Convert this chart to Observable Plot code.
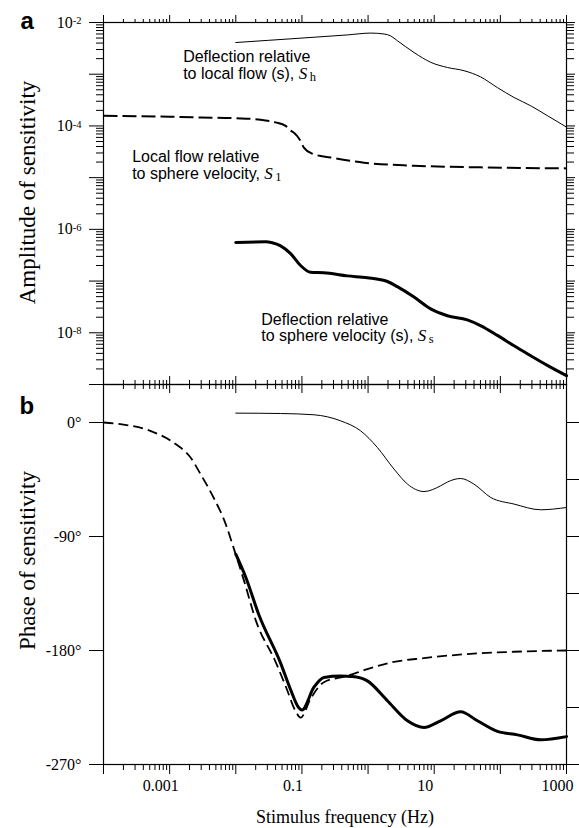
<!DOCTYPE html>
<html>
<head>
<meta charset="utf-8">
<script src="https://cdn.jsdelivr.net/npm/d3@7"></script>
<script src="https://cdn.jsdelivr.net/npm/@observablehq/plot@0.6"></script>
<style>
html, body { margin: 0; padding: 0; background: #fff; }
#chart { position: relative; width: 579px; height: 828px; background: #fff; }
#chart svg { position: absolute; left: 0; }
</style>
</head>
<body>
<div id="chart"></div>
<script>
// ---------- tick values and labels ----------
const freqDecades = [1e-4, 1e-3, 1e-2, 1e-1, 1, 10, 100, 1000];
const freqLabelValues = [1e-3, 1e-1, 10, 1000];
const freqLabels = ["0.001", "0.1", "10", "1000"];
const ampDecades = [1e-9, 1e-8, 1e-7, 1e-6, 1e-5, 1e-4, 1e-3, 1e-2];
const ampLabelValues = [1e-2, 1e-4, 1e-6, 1e-8];
const ampLabels = ["10^-2", "10^-4", "10^-6", "10^-8"];
const phaseLabelValues = [0, -90, -180, -270];
const phaseLabels = ["0°", "-90°", "-180°", "-270°"];
const phaseRightTicks = [0, -45, -90, -135, -180, -225, -270];

// ---------- panel a: amplitude of sensitivity ----------
const ampFreqSh = [0.01, 0.1, 0.486, 1.1, 1.74, 2.2, 2.77, 4.95, 8.85, 15.8, 28.2, 50, 90.4, 161, 288, 513, 1000];
const ampSh = [4.1e-3, 5.0e-3, 5.75e-3, 6.24e-3, 6.0e-3, 5.5e-3, 4.45e-3, 2.63e-3, 1.70e-3, 1.35e-3, 1.17e-3, 8.9e-4, 5.5e-4, 3.55e-4, 2.45e-4, 1.58e-4, 9.5e-5];

const ampFreqS1 = [0.0001, 0.001, 0.00293, 0.01, 0.0237, 0.04, 0.0567, 0.0676, 0.0759, 0.0955, 0.107, 0.1435, 0.272, 0.867, 4.9, 50, 1000];
const ampS1 = [1.57e-4, 1.51e-4, 1.46e-4, 1.41e-4, 1.32e-4, 1.17e-4, 1.0e-4, 8.1e-5, 7.4e-5, 5.1e-5, 3.8e-5, 2.9e-5, 2.45e-5, 1.95e-5, 1.70e-5, 1.58e-5, 1.51e-5];

const ampFreqSs = [0.01, 0.0282, 0.0355, 0.0476, 0.0675, 0.0955, 0.1355, 0.215, 0.486, 0.975, 1.96, 2.77, 4.95, 8.85, 15.8, 31.6, 50, 90.4, 161, 288, 513, 1000];
const ampSs = [5.6e-7, 5.75e-7, 5.5e-7, 4.8e-7, 3.4e-7, 2.0e-7, 1.48e-7, 1.45e-7, 1.26e-7, 1.16e-7, 9.8e-8, 7.8e-8, 4.9e-8, 2.9e-8, 2.14e-8, 1.78e-8, 1.38e-8, 8.9e-9, 5.6e-9, 3.6e-9, 2.34e-9, 1.48e-9];

// ---------- panel b: phase of sensitivity (degrees) ----------
const phFreqSh = [0.01, 0.0476, 0.152, 0.385, 0.773, 1.38, 2.47, 3.94, 7.0, 12.5, 15.8, 25.1, 39.8, 71.6, 161, 407, 1000];
const phSh = [7.4, 7.1, 6.1, 1.3, -6.6, -19.7, -36.8, -48.6, -54.5, -50, -47, -44.2, -48.6, -59.2, -64.4, -68.9, -67.1];

const phFreqS1 = [0.0001, 0.00018, 0.00051, 0.00123, 0.00207, 0.00293, 0.00461, 0.00702, 0.00927, 0.0137, 0.02, 0.04, 0.0566, 0.0804, 0.0955, 0.1355, 0.215, 0.486, 0.975, 2.2, 7.0, 28.2, 161, 1000];
const phS1 = [0, -1.3, -6.6, -17, -27.6, -40.7, -59.2, -80, -99, -127, -156, -189, -208, -228, -233, -218, -205, -200, -194.7, -189.5, -186, -183, -181, -180];

const phFreqSs = [0.01, 0.0141, 0.0224, 0.0476, 0.0675, 0.0891, 0.1, 0.152, 0.215, 0.385, 0.578, 0.975, 1.96, 3.94, 7.0, 12.5, 25.1, 45, 90.4, 181, 407, 1000];
const phSs = [-104, -122, -152, -190, -211, -225, -227, -209, -201.3, -200.2, -200.5, -204, -219.7, -235.5, -240.8, -235.5, -228.4, -235.5, -243.9, -246.6, -250.5, -248];

// ---------- helpers ----------
const zip = (fs, vs) => fs.map((f, i) => ({f, v: vs[i]}));
const minorOf = (decs) => {
  const out = [];
  for (const d of decs.slice(0, -1)) for (let k = 2; k <= 9; k++) out.push(d * k);
  return out;
};
const freqMinor = minorOf(freqDecades);
const ampMinor = minorOf(ampDecades);
const blank = () => "";
const lookup = (vals, labels) => (d) => { const i = vals.indexOf(d); return i < 0 ? "" : labels[i]; };

const SERIF = "'Liberation Serif', 'Times New Roman', serif";
const SANS = "'Liberation Sans', Arial, sans-serif";
const baseStyle = {fontFamily: SERIF, fontSize: "16px", background: "transparent", overflow: "visible", color: "black"};
const W = 579, ML = 103, MR = 13;

const annoStyle = {textAnchor: "start", lineAnchor: "bottom", fontFamily: SANS, fontSize: 16, lineHeight: 1.04, fill: "black"};
const yTitleStyle = {frameAnchor: "left", textAnchor: "middle", lineAnchor: "middle", rotate: -90, fontFamily: SERIF, fontSize: 23};

// ---------- panel a ----------
const plotA = Plot.plot({
  width: W, height: 400,
  marginTop: 22, marginBottom: 16, marginLeft: ML, marginRight: MR,
  style: baseStyle,
  x: {type: "log", domain: [1e-4, 1e3], label: null},
  y: {type: "log", domain: [1e-9, 1e-2], label: null},
  marks: [
    Plot.axisX(freqDecades, {anchor: "top", tickSize: 8, tickFormat: blank, label: null}),
    Plot.axisX(freqMinor, {anchor: "top", tickSize: 4, tickFormat: blank, label: null}),
    Plot.axisX(freqDecades, {anchor: "bottom", tickSize: 9, tickFormat: blank, label: null}),
    Plot.axisX(freqMinor, {anchor: "bottom", tickSize: 5, tickFormat: blank, label: null}),
    Plot.axisY(ampDecades, {anchor: "left", tickSize: 14, tickPadding: 8, tickFormat: lookup(ampLabelValues, ampLabels), label: null}),
    Plot.axisY(ampMinor, {anchor: "left", tickSize: 7, tickFormat: blank, label: null}),
    Plot.axisY(ampDecades.slice(1), {anchor: "right", tickSize: 8, tickFormat: blank, label: null}),
    Plot.axisY(ampMinor, {anchor: "right", tickSize: 7, tickFormat: blank, label: null}),
    Plot.line(zip(ampFreqSh, ampSh), {x: "f", y: "v", curve: "monotone-x", strokeWidth: 1}),
    Plot.line(zip(ampFreqS1, ampS1), {x: "f", y: "v", curve: "monotone-x", strokeWidth: 2, strokeDasharray: "14,5", strokeLinecap: "butt"}),
    Plot.line(zip(ampFreqSs, ampSs), {x: "f", y: "v", curve: "monotone-x", strokeWidth: 3}),
    Plot.frame({strokeWidth: 1.2}),
    Plot.text([{f: 0.0016, v: 8.05e-4, t: "Deflection relative\nto local flow (s), {S|h}"}], {x: "f", y: "v", text: "t", ...annoStyle}),
    Plot.text([{f: 0.000271, v: 9.4e-6, t: "Local flow relative\nto sphere velocity, {S|1}"}], {x: "f", y: "v", text: "t", ...annoStyle}),
    Plot.text([{f: 0.0243, v: 6.85e-9, t: "Deflection relative\nto sphere velocity (s), {S|s}"}], {x: "f", y: "v", text: "t", ...annoStyle}),
    Plot.text(["a"], {frameAnchor: "top-left", dx: -83, dy: 6, textAnchor: "start", lineAnchor: "bottom", fontFamily: SANS, fontWeight: "bold", fontSize: 24}),
    Plot.text(["Amplitude of sensitivity"], {...yTitleStyle, dx: -76, dy: -11})
  ]
});

// ---------- panel b ----------
const plotB = Plot.plot({
  width: W, height: 460,
  marginTop: 16, marginBottom: 64, marginLeft: ML, marginRight: MR,
  style: baseStyle,
  x: {type: "log", domain: [1e-4, 1e3], label: null},
  y: {domain: [-270, 30], label: null},
  marks: [
    Plot.axisX(freqDecades, {anchor: "top", tickSize: 9, tickFormat: blank, label: null}),
    Plot.axisX(freqMinor, {anchor: "top", tickSize: 5, tickFormat: blank, label: null}),
    Plot.axisX(freqDecades, {anchor: "bottom", tickSize: 10, tickFormat: blank, label: null}),
    Plot.axisX(freqLabelValues, {anchor: "bottom", tickSize: 0, tickPadding: 15, dx: -9, tickFormat: lookup(freqLabelValues, freqLabels), label: null}),
    Plot.axisX(freqMinor, {anchor: "bottom", tickSize: 6, tickFormat: blank, label: null}),
    Plot.axisY(phaseLabelValues, {anchor: "left", tickSize: 14, tickPadding: 8, tickFormat: lookup(phaseLabelValues, phaseLabels), label: null}),
    Plot.axisY(phaseRightTicks, {anchor: "right", tickSize: 13, tickFormat: blank, label: null}),
    Plot.line(zip(phFreqSh, phSh), {x: "f", y: "v", curve: "monotone-x", strokeWidth: 1}),
    Plot.line(zip(phFreqS1, phS1), {x: "f", y: "v", curve: "monotone-x", strokeWidth: 1.8, strokeDasharray: "10,5", strokeLinecap: "butt"}),
    Plot.line(zip(phFreqSs, phSs), {x: "f", y: "v", curve: "monotone-x", strokeWidth: 3}),
    Plot.frame({strokeWidth: 1.2}),
    Plot.text(["b"], {frameAnchor: "top-left", dx: -84, dy: 29, textAnchor: "start", lineAnchor: "bottom", fontFamily: SANS, fontWeight: "bold", fontSize: 24}),
    Plot.text(["Phase of sensitivity"], {...yTitleStyle, dx: -76, dy: -14}),
    Plot.text(["Stimulus frequency (Hz)"], {frameAnchor: "bottom", textAnchor: "middle", dx: 10, dy: 58, lineAnchor: "bottom", fontFamily: SERIF, fontSize: 18})
  ]
});

// ---------- rich text: superscripts and subscripts ----------
const NS = "http://www.w3.org/2000/svg";
function richify(svg) {
  d3.select(svg).selectAll("text, tspan").each(function () {
    if (this.childElementCount > 0) return;
    const t = this.textContent;
    let m = t.match(/^10\^(.+)$/);
    if (m) {
      this.textContent = "10";
      const sup = document.createElementNS(NS, "tspan");
      sup.setAttribute("font-size", "10.5");
      sup.setAttribute("dy", "-3.5");
      sup.textContent = m[1];
      this.appendChild(sup);
      return;
    }
    m = t.match(/^(.*)\{S\|(.+)\}$/);
    if (m) {
      this.textContent = m[1];
      const s = document.createElementNS(NS, "tspan");
      s.setAttribute("font-family", SERIF);
      s.setAttribute("font-style", "italic");
      s.setAttribute("font-size", "17");
      s.textContent = "S";
      this.appendChild(s);
      const sub = document.createElementNS(NS, "tspan");
      sub.setAttribute("font-family", SERIF);
      sub.setAttribute("font-size", "12.5");
      sub.setAttribute("dx", "2.5");
      sub.setAttribute("dy", "1.5");
      sub.textContent = m[2];
      this.appendChild(sub);
    }
  });
}
richify(plotA);
richify(plotB);

plotA.style.top = "0px";
plotB.style.top = "368px";
const chart = document.getElementById("chart");
chart.appendChild(plotA);
chart.appendChild(plotB);
</script>
</body>
</html>
